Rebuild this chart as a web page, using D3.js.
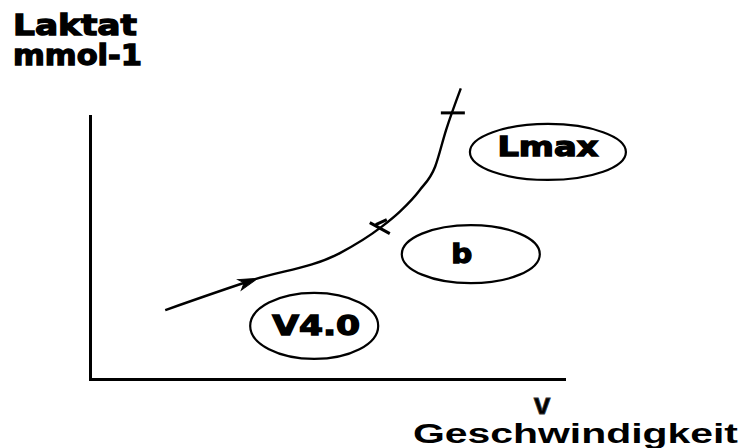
<!DOCTYPE html>
<html>
<head>
<meta charset="utf-8">
<script src="https://cdn.jsdelivr.net/npm/d3@7"></script>
<style>
  html, body { margin: 0; padding: 0; background: #fff; }
  svg { display: block; }
  .pix { font-family: "DejaVu Sans", sans-serif; font-weight: bold; fill: #000; stroke: #000; stroke-width: 1.3px; }
</style>
</head>
<body>
<div id="chart"></div>
<script>
// Curve points (arbitrary units, 0-100 on both axes)
const curveX = [15.8, 34.2, 52.5, 61.3, 65.1, 69.3, 72.5, 74.8, 77.9];
const curveY = [26.1, 37.5, 47.7, 57.7, 63.4, 71.6, 80.4, 94.3, 110.1];

// Marks on the curve
const arrowX = 34.2, arrowY = 37.5;
const crossX = [61.3, 75.6];
const crossY = [57.7, 100.8];

// Ellipse annotations
const labelText = ['Lmax', 'b', 'V4.0'];
const labelX = [96.2, 80.0, 47.1];
const labelY = [86.0, 47.3, 20.1];

const yTitle = ['Laktat', 'mmol-1'];
const xTitle = ['v', 'Geschwindigkeit'];

const width = 744, height = 448;
const margins = { top: 115, right: 178, bottom: 69, left: 90 };

const svg = d3.select('#chart')
    .append('svg')
    .attr('width', width)
    .attr('height', height);

const xScale = d3.scaleLinear()
    .domain([0, 100])
    .range([margins.left, width - margins.right]);

const yScale = d3.scaleLinear()
    .domain([0, 100])
    .range([height - margins.bottom, margins.top]);

// Axes (plain lines, no ticks)
svg.append('line')
    .attr('x1', xScale(0)).attr('x2', xScale(0))
    .attr('y1', yScale(0)).attr('y2', yScale(100))
    .attr('stroke', '#000').attr('stroke-width', 3)
    .attr('shape-rendering', 'crispEdges');

svg.append('line')
    .attr('x1', xScale(0) - 1.5).attr('x2', xScale(100))
    .attr('y1', yScale(0)).attr('y2', yScale(0))
    .attr('stroke', '#000').attr('stroke-width', 3)
    .attr('shape-rendering', 'crispEdges');

// Lactate curve
const pts = curveX.map((x, i) => [x, curveY[i]]);
const line = d3.line()
    .x(d => xScale(d[0]))
    .y(d => yScale(d[1]))
    .curve(d3.curveMonotoneX);

svg.append('path')
    .datum(pts)
    .attr('fill', 'none')
    .attr('stroke', '#000')
    .attr('stroke-width', 2.4)
    .attr('d', line);

// Arrow mark along the first segment
const ax = xScale(arrowX), ay = yScale(arrowY);
const ang = Math.atan2(yScale(curveY[2]) - yScale(curveY[0]), xScale(curveX[2]) - xScale(curveX[0])) * 180 / Math.PI;
svg.append('path')
    .attr('transform', `translate(${ax},${ay}) rotate(${ang})`)
    .attr('d', 'M5,0 L-14,-5 L-9,0 L-14,6 Z')
    .attr('fill', '#000')
    .attr('stroke', '#000')
    .attr('stroke-width', 1);

// Cross marks
svg.append('path')
    .attr('transform', `translate(${xScale(crossX[0])},${yScale(crossY[0])})`)
    .attr('d', 'M-12,-4 L8,7 M-6,-2 L5,-7')
    .attr('stroke', '#000').attr('stroke-width', 3).attr('fill', 'none');

svg.append('path')
    .attr('transform', `translate(${xScale(crossX[1])},${yScale(crossY[1])})`)
    .attr('d', 'M-9,0 L15,0')
    .attr('stroke', '#000').attr('stroke-width', 3).attr('fill', 'none');

// Ellipses with labels
const ellipseSize = { 'Lmax': [78, 28, 101, 4, 0], 'b': [69, 29, 21, 9, -9], 'V4.0': [64, 33, 88, 9, 2] };
labelText.forEach((t, i) => {
    const cx = xScale(labelX[i]), cy = yScale(labelY[i]);
    const [rx, ry, tw, dy, dx] = ellipseSize[t];
    svg.append('ellipse')
        .attr('cx', cx).attr('cy', cy)
        .attr('rx', rx).attr('ry', ry)
        .attr('fill', 'none')
        .attr('stroke', '#000')
        .attr('stroke-width', 2.2);
    svg.append('text')
        .attr('class', 'pix')
        .attr('x', cx + dx).attr('y', cy + dy)
        .attr('text-anchor', 'middle')
        .attr('textLength', tw)
        .attr('lengthAdjust', 'spacingAndGlyphs')
        .style('font-size', t === 'Lmax' ? '26px' : '27px')
        .text(t);
});

// Y axis title
svg.append('text')
    .attr('class', 'pix')
    .attr('x', 13).attr('y', 35)
    .attr('textLength', 124)
    .attr('lengthAdjust', 'spacingAndGlyphs')
    .style('font-size', '29px')
    .text(yTitle[0]);

svg.append('text')
    .attr('class', 'pix')
    .attr('x', 13).attr('y', 65)
    .attr('textLength', 129)
    .attr('lengthAdjust', 'spacingAndGlyphs')
    .style('font-size', '28px')
    .text(yTitle[1]);

// X axis title
svg.append('text')
    .attr('x', 542).attr('y', 414)
    .attr('text-anchor', 'middle')
    .style('font-family', '"Liberation Sans", Arial, sans-serif')
    .style('font-weight', 'bold')
    .style('font-size', '30px')
    .style('stroke', '#333')
    .style('stroke-width', '0.8px')
    .text(xTitle[0]);

svg.append('text')
    .attr('x', 413).attr('y', 443)
    .attr('textLength', 325)
    .attr('lengthAdjust', 'spacingAndGlyphs')
    .style('font-family', '"Liberation Sans", Arial, sans-serif')
    .style('font-weight', 'bold')
    .style('font-size', '28px')
    .text(xTitle[1]);
</script>
</body>
</html>
